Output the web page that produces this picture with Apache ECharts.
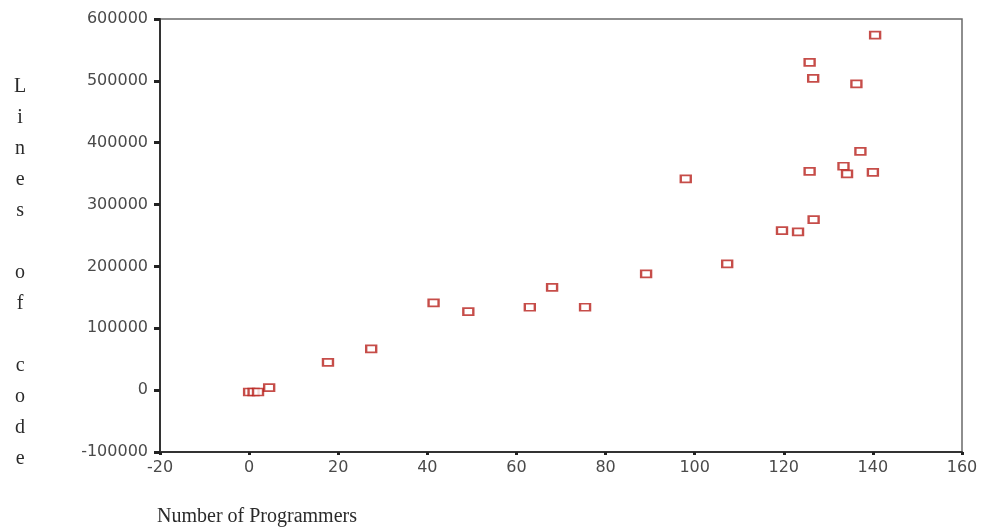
<!DOCTYPE html>
<html>
<head>
<meta charset="utf-8">
<script src="https://cdn.jsdelivr.net/npm/echarts@6/dist/echarts.min.js"></script>
<style>
html,body{margin:0;padding:0;background:#fff;}
#chart{width:988px;height:529px;}
</style>
</head>
<body>
<div id="chart"></div>
<script>
// Number of programmers (x) and lines of code (y)
const programmers = [0, 1, 2, 4.5, 17.7, 27.4, 41.4, 49.2, 63.0, 68.0, 75.4, 89.1, 98.0, 107.3, 119.6, 123.2, 126.7, 125.8, 125.8, 126.6, 133.4, 134.2, 136.3, 137.2, 140.0, 140.5];
const linesOfCode = [-3000, -3000, -3000, 4000, 45000, 66600, 141000, 127000, 134000, 166000, 134000, 188000, 341500, 204000, 258000, 256000, 275700, 353800, 530000, 504000, 362000, 349600, 495000, 386000, 352000, 574000];
const xTicks = { min: -20, max: 160, interval: 20 };
const yTicks = { min: -100000, max: 600000, interval: 100000 };
const xTitle = 'Number of Programmers';
const yTitle = 'Lines of code';

const points = programmers.map((x, i) => [x, linesOfCode[i]]);
const yTitleVertical = yTitle.split(' ').map(w => w.split('').join('\n')).join('\n\n');

const chart = echarts.init(document.getElementById('chart'));
const tickLabel = { color: '#4a4a4a', fontFamily: 'DejaVu Sans', fontSize: 16, formatter: v => String(v) };
chart.setOption({
  animation: false,
  backgroundColor: '#fff',
  grid: { left: 160, right: 26, top: 19, bottom: 77, show: true, borderColor: '#6a6a6a', borderWidth: 1.5 },
  xAxis: {
    type: 'value', min: xTicks.min, max: xTicks.max, interval: xTicks.interval,
    axisLine: { show: true, onZero: false, lineStyle: { color: '#333', width: 2 } },
    axisTick: { show: true, inside: false, length: 3, lineStyle: { color: '#222', width: 3 } },
    axisLabel: Object.assign({ margin: 8 }, tickLabel),
    splitLine: { show: false }
  },
  yAxis: {
    type: 'value', min: yTicks.min, max: yTicks.max, interval: yTicks.interval,
    axisLine: { show: true, onZero: false, lineStyle: { color: '#333', width: 2 } },
    axisTick: { show: true, inside: false, length: 6, lineStyle: { color: '#222', width: 3 } },
    axisLabel: Object.assign({ margin: 12 }, tickLabel),
    splitLine: { show: false }
  },
  graphic: [
    {
      type: 'text', left: 14, top: 71,
      style: { text: yTitleVertical, fontFamily: 'Liberation Serif', fontSize: 20, lineHeight: 31, fill: '#2a2a2a', align: 'center', textAlign: 'center' }
    },
    {
      type: 'text', left: 157, top: 507,
      style: { text: xTitle, fontFamily: 'Liberation Serif', fontSize: 20, fill: '#2a2a2a' }
    }
  ],
  series: [{
    type: 'scatter',
    data: points,
    symbol: 'rect',
    symbolSize: [10, 7],
    itemStyle: { color: '#ffffff', borderColor: '#b8201c', borderWidth: 2 }
  }]
});
</script>
</body>
</html>
